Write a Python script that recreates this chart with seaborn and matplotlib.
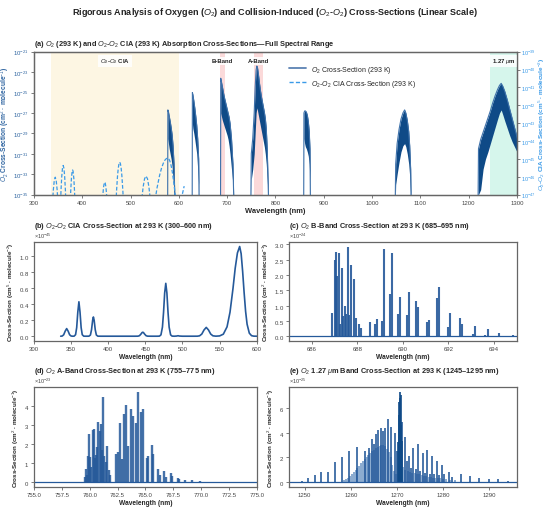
import numpy as np
import pandas as pd
import matplotlib
matplotlib.use("Agg")
import matplotlib.pyplot as plt
import matplotlib.transforms as mtransforms
from matplotlib.lines import Line2D
from matplotlib.ticker import NullLocator, FixedLocator, FormatStrFormatter
import seaborn as sns

# ---------------------------------------------------------------- data
# O2-O2 collision-induced absorption, values in units of 1e-45 cm^5 molecule^-2
CIA_UNIT = 1e-45
cia_wavelength = [336, 338, 340, 342, 344, 346, 348, 350, 352, 354, 356, 357.5, 359, 360.5,
                  362, 363.5, 365, 367, 370, 374, 376, 377.5, 379, 380, 381, 382.5, 384, 386,
                  390, 400, 420, 436, 440, 442, 444, 445.5, 446.5, 447.5, 449, 451, 453, 458,
                  466, 469, 471, 473, 474.5, 476, 477.5, 479, 480.5, 482, 484, 486, 489, 492,
                  494, 496, 500, 515, 520, 523, 526, 529, 532, 535, 538, 541, 545, 550, 555,
                  560, 564, 568, 571, 574, 577, 579, 581, 583, 585, 587, 590, 593, 596, 600,
                  604, 607, 611]
cia_value = [0.0002, 0.0023, 0.018, 0.063, 0.095, 0.063, 0.018, 0.0023, 0.0002, 0.0006, 0.019,
             0.107, 0.30, 0.43, 0.30, 0.107, 0.019, 0.0006, 0.0001, 0.0005, 0.015, 0.081, 0.20,
             0.24, 0.20, 0.081, 0.015, 0.0005, 0.0001, 0.0001, 0.0001, 0.0001, 0.0006, 0.0062,
             0.026, 0.045, 0.050, 0.045, 0.026, 0.0062, 0.0006, 0.0001, 0.0001, 0.0013, 0.017,
             0.114, 0.30, 0.54, 0.66, 0.54, 0.30, 0.114, 0.017, 0.0013, 0.0001, 0.002, 0.006,
             0.002, 0.0001, 0.0001, 0.0004, 0.0048, 0.027, 0.078, 0.110, 0.078, 0.027, 0.0049,
             0.0006, 0.0038, 0.0255, 0.117, 0.30, 0.595, 0.85, 1.04, 1.12, 1.03, 0.81, 0.545,
             0.31, 0.15, 0.038, 0.0067, 0.0008, 0.0001, 0.001, 0.01, 0.03]

# O2 band envelopes on the log panel: wavelength, log10 upper and lower envelope
band580_wl = [576.8, 577.2, 578.5, 580, 582, 584, 586, 588, 590, 592]
band580_hi = [-36, -26.7, -26.9, -27.3, -27.8, -28.4, -29.1, -30.2, -32, -36]
band580_lo = [-36, -29.5, -30.0, -30.5, -31.0, -31.5, -32.2, -33.5, -35, -36]

band630_wl = [627.6, 628.0, 629, 631, 633, 635, 637, 639, 641, 642]
band630_hi = [-36, -25.0, -25.2, -25.8, -26.5, -27.3, -28.2, -29.5, -31.5, -36]
band630_lo = [-36, -28.0, -28.5, -29.0, -29.6, -30.3, -31.0, -32.5, -34, -36]

bandB_wl = [686.3, 686.7, 688, 690, 692, 694, 696, 698, 700, 702, 704, 706, 709, 712, 714]
bandB_hi = [-36, -23.6, -23.9, -24.4, -24.9, -25.4, -25.8, -26.2, -26.6, -27.0, -27.4, -28.0,
            -29.5, -32, -36]
bandB_lo = [-36, -27.0, -27.3, -27.7, -28.0, -28.3, -28.6, -28.9, -29.2, -29.6, -30.2, -31.0,
            -32.5, -34, -36]

bandA_wl = [749, 750, 753, 756, 758, 760, 761.5, 763, 765, 767, 769, 771, 773, 775, 777, 779,
            781, 783, 786]
bandA_hi = [-36, -31.0, -29.5, -27.0, -24.5, -22.8, -22.4, -22.6, -23.3, -24.1, -24.8, -25.4,
            -25.9, -26.4, -26.9, -27.5, -28.5, -30.5, -36]
bandA_lo = [-36, -33.5, -32.5, -31.0, -29.0, -27.0, -26.5, -26.8, -27.3, -27.8, -28.3, -28.8,
            -29.3, -29.8, -30.3, -31, -32, -33.5, -36]

band865_wl = [858.5, 859, 860.5, 862, 864, 866, 868, 870, 871.5, 872.5]
band865_hi = [-36, -27.0, -26.8, -26.8, -26.9, -27.2, -27.8, -28.8, -30.5, -36]
band865_lo = [-36, -29.5, -30.0, -30.3, -30.5, -30.8, -31.2, -32, -33.5, -36]

band1065_wl = [1048, 1049, 1052, 1056, 1060, 1064, 1067.5, 1070, 1073, 1076, 1078, 1080, 1081]
band1065_hi = [-36, -32, -30.0, -28.6, -27.6, -27.0, -26.7, -27.0, -27.7, -28.8, -30.2, -32.5, -36]
band1065_lo = [-36, -34, -33, -31.8, -30.8, -30.2, -30.0, -30.3, -31.0, -32, -33.2, -35, -36]

band1270_wl = [1219.5, 1220.5, 1225, 1230, 1235, 1240, 1245, 1250, 1255, 1260, 1264, 1267.5,
               1271, 1275, 1280, 1285, 1290, 1295, 1300, 1305]
band1270_hi = [-36, -30.5, -29.6, -28.9, -28.2, -27.5, -26.8, -26.0, -25.3, -24.7, -24.3, -24.1,
               -24.4, -24.9, -25.7, -26.6, -27.5, -28.4, -29.3, -30.2]
band1270_lo = [-36, -35, -34.5, -32.5, -31.5, -30.8, -30.0, -29.2, -28.4, -27.6, -27.0, -26.7,
               -27.2, -27.8, -28.5, -29.2, -29.8, -30.3, -30.8, -31.3]

# B band lines, heights in units of 1e-24 cm^2 molecule^-1
B_UNIT = 1e-24
bband_wl = [686.90, 687.00, 687.08, 687.11, 687.18, 687.23, 687.32, 687.35, 687.45, 687.49,
            687.57, 687.64, 687.73, 687.85, 687.96, 688.09, 688.17, 688.57, 688.77, 688.86,
            689.09, 689.17, 689.42, 689.51, 689.80, 689.89, 690.19, 690.28, 690.59, 690.68,
            691.04, 691.13, 691.52, 691.59, 692.00, 692.08, 692.52, 692.61, 693.09, 693.15,
            693.62, 693.73, 694.22, 694.85]
bband_h = [0.77, 2.47, 2.75, 1.95, 2.70, 0.40, 2.22, 0.67, 0.98, 0.72,
           2.92, 0.68, 2.32, 1.88, 0.58, 0.41, 0.27, 0.47, 0.40, 0.57,
           0.50, 2.85, 1.38, 2.72, 0.73, 1.28, 0.70, 1.45, 1.15, 0.95,
           0.45, 0.52, 1.25, 1.61, 0.30, 0.77, 0.58, 0.41, 0.07, 0.34,
           0.04, 0.24, 0.10, 0.05]

# A band lines, heights in units of 1e-23
A_UNIT = 1e-23
aband_wl = [759.60, 759.66, 759.75, 759.84, 759.96, 760.05, 760.14, 760.29, 760.38, 760.47,
            760.59, 760.68, 760.77, 760.89, 760.98, 761.07, 761.16, 761.28, 761.43, 761.55,
            761.70, 761.82, 762.32, 762.53, 762.68, 762.89, 763.07, 763.28, 763.43, 763.73,
            763.88, 764.18, 764.30, 764.63, 764.75, 765.16, 765.25, 765.61, 765.70, 766.15,
            766.27, 766.69, 766.81, 767.29, 767.41, 767.91, 768.00, 768.57, 769.20, 769.89]
aband_h = [0.25, 0.69, 0.37, 1.39, 2.50, 1.30, 0.78, 2.71, 2.80, 1.25,
           1.43, 1.83, 3.15, 2.66, 3.07, 1.66, 4.48, 1.36, 1.07, 1.87,
           0.63, 0.37, 1.46, 1.60, 3.12, 1.22, 3.59, 4.04, 1.87, 3.82,
           3.47, 3.10, 4.74, 3.68, 3.82, 1.25, 1.34, 1.92, 1.48, 0.69,
           0.37, 0.58, 0.26, 0.48, 0.33, 0.18, 0.14, 0.12, 0.09, 0.05]

# 1.27 um band lines, heights in units of 1e-25
D_UNIT = 1e-25
o127_wl = [1249.42, 1250.72, 1252.16, 1253.60, 1255.05, 1256.63, 1258.14, 1259.66, 1261.32,
           1262.97, 1263.98, 1264.49, 1264.92, 1265.42, 1265.86, 1266.50, 1266.86, 1267.44,
           1268.02, 1268.74, 1269.46, 1270.04, 1271.05, 1271.62, 1272.13, 1272.49, 1272.92,
           1273.50, 1274.00, 1274.50, 1275.01, 1275.51, 1276.02, 1276.52, 1277.03, 1277.53,
           1278.04, 1278.54, 1279.05, 1279.77, 1280.13, 1281.13, 1281.86, 1283.87, 1285.75,
           1287.77, 1289.86, 1291.95, 1294.11]
o127_h = [0.08, 0.33, 0.52, 0.79, 0.79, 1.63, 2.01, 2.47, 2.85, 2.52,
          2.77, 3.47, 3.10, 3.91, 4.18, 4.40, 4.15, 4.40, 5.10, 4.45,
          3.94, 2.52, 4.86, 3.64, 1.68, 2.14, 1.11, 2.72, 1.06, 3.07,
          0.92, 2.31, 0.71, 2.61, 0.65, 2.14, 0.62, 1.68, 0.52, 1.36,
          0.62, 0.81, 0.40, 0.60, 0.45, 0.30, 0.25, 0.22, 0.10]
o127_q_wl = [1270.20, 1270.33, 1270.44, 1270.54, 1270.64, 1270.76, 1270.88, 1271.00]
o127_q_h = [3.2, 5.4, 6.5, 7.30, 6.8, 7.03, 4.6, 3.3]
o127_dense_wl = [1258.6, 1259.0, 1259.4, 1259.8, 1260.2, 1260.6, 1261.0, 1261.4, 1261.8, 1262.2,
                 1262.6, 1263.0, 1263.4, 1263.8, 1264.2, 1264.6, 1265.0, 1265.4, 1265.8, 1266.2,
                 1266.6, 1267.0, 1267.4, 1267.8, 1268.2, 1268.6, 1269.0, 1269.4, 1269.8,
                 1271.3, 1271.8, 1272.3, 1272.7, 1273.2, 1273.8, 1274.3, 1274.8, 1275.3, 1275.8,
                 1276.3, 1276.8, 1277.3, 1277.8, 1278.3, 1278.8, 1279.3, 1279.9, 1280.5, 1281.5,
                 1282.5]
o127_dense_h = [0.15, 0.25, 0.35, 0.5, 0.65, 0.8, 1.0, 1.15, 1.3, 1.5,
                1.7, 1.85, 2.0, 2.2, 2.35, 2.5, 2.6, 2.75, 2.85, 2.95,
                3.0, 3.0, 2.9, 2.7, 2.4, 2.0, 1.4, 0.9, 0.6,
                1.2, 1.0, 0.9, 0.8, 0.75, 0.7, 0.65, 0.6, 0.55, 0.5,
                0.45, 0.4, 0.38, 0.35, 0.32, 0.3, 0.28, 0.25, 0.22, 0.18,
                0.14]

# highlighted regions in panel (a)
region_names = [r'$O_2$-$O_2$ CIA', 'B-Band', 'A-Band', r'1.27 $\mu$m']
region_start = [335, 685, 755, 1245]
region_end = [600, 695, 775, 1300]
region_colors = ['#fdf6e3', '#fbdada', '#fbd9d9', '#d6f6ec']

# ---------------------------------------------------------------- style
sns.set_theme(style="ticks")
plt.rcParams['font.family'] = ['Liberation Sans', 'DejaVu Sans']
plt.rcParams.update({
    'mathtext.fontset': 'custom',
    'mathtext.rm': 'Liberation Sans',
    'mathtext.it': 'Liberation Sans:italic',
    'mathtext.bf': 'Liberation Sans:bold',
    'axes.edgecolor': '#666666',
    'axes.linewidth': 0.9,
    'xtick.color': '#666666', 'ytick.color': '#666666',
    'xtick.labelcolor': '#444444', 'ytick.labelcolor': '#444444',
    'xtick.major.size': 2.2, 'ytick.major.size': 2.2,
    'xtick.major.width': 0.6, 'ytick.major.width': 0.6,
    'xtick.labelsize': 4.3, 'ytick.labelsize': 4.3,
    'xtick.major.pad': 1.5, 'ytick.major.pad': 1.5,
})

O2_DARK = '#0f4a87'
O2_EDGE = '#3f72ab'
O2_LINE = '#25599a'
CIA_COLOR = '#3a9ae8'
LEFT_LABEL = '#2e64a0'
LAB = 4.8
TIT = 5.3

fig = plt.figure(figsize=(5.5, 5.1), dpi=100)
fig.text(0.5, 0.976,
         r'Rigorous Analysis of Oxygen ($O_2$) and Collision-Induced ($O_2$-$O_2$) Cross-Sections (Linear Scale)',
         ha='center', va='center', fontsize=6.5, fontweight='bold', color='#222222')

# ---------------------------------------------------------------- panel (a)
axA = fig.add_axes([0.0618, 0.6163, 0.878, 0.2804])
axA.set_yscale('log')
axA.set_xlim(300, 1300)
axA.set_ylim(1e-35, 1e-21)
for s, e, c in zip(region_start, region_end, region_colors):
    axA.axvspan(s, e, color=c, lw=0, zorder=0)

bands = [(band580_wl, band580_hi, band580_lo), (band630_wl, band630_hi, band630_lo),
         (bandB_wl, bandB_hi, bandB_lo), (bandA_wl, bandA_hi, bandA_lo),
         (band865_wl, band865_hi, band865_lo), (band1065_wl, band1065_hi, band1065_lo),
         (band1270_wl, band1270_hi, band1270_lo)]
for wl, hi, lo in bands:
    df = pd.DataFrame({'wl': wl, 'hi': 10.0 ** np.array(hi), 'lo': 10.0 ** np.array(lo)})
    axA.fill_between(df['wl'], df['lo'], df['hi'], color=O2_DARK, lw=0, zorder=2)
    sns.lineplot(data=df, x='wl', y='hi', ax=axA, color=O2_EDGE, lw=0.8, zorder=3,
                 estimator=None, legend=False)

axA.set_xticks(np.arange(300, 1301, 100))
axA.yaxis.set_major_locator(FixedLocator([10.0 ** k for k in range(-21, -36, -2)]))
axA.yaxis.set_minor_locator(NullLocator())
axA.tick_params(axis='y', labelcolor=LEFT_LABEL)
axA.set_xlabel('Wavelength (nm)', fontsize=5.4, fontweight='bold', labelpad=1.5)
axA.set_ylabel(r'$O_2$ Cross-Section (cm$^2$ · molecule$^{-1}$)', fontsize=LAB,
               fontweight='bold', color=LEFT_LABEL, labelpad=0.5)
axA.set_title(r'(a) $O_2$ (293 K) and $O_2$-$O_2$ CIA (293 K) Absorption Cross-Sections—Full Spectral Range',
              loc='left', fontsize=TIT, fontweight='bold', y=1.0, pad=5)

trans = mtransforms.blended_transform_factory(axA.transData, axA.transAxes)
for name, s, e in zip(region_names, region_start, region_end):
    axA.text((s + e) / 2, 0.935, name, transform=trans, ha='center', va='center',
             fontsize=4.3, fontweight='bold', color='#222222', zorder=5,
             bbox=dict(facecolor='white', edgecolor='none', alpha=0.85, pad=1.2))

axA2 = axA.twinx()
axA2.set_yscale('log')
cia_df = pd.DataFrame({'wl': cia_wavelength, 'val': np.array(cia_value) * CIA_UNIT})
sns.lineplot(data=cia_df, x='wl', y='val', ax=axA2, color=CIA_COLOR, lw=0.9,
             linestyle=(0, (3, 1.6)), estimator=None, legend=False)
axA2.set_ylim(1e-47, 1e-39)
axA2.set_xlim(300, 1300)
axA2.yaxis.set_major_locator(FixedLocator([10.0 ** k for k in range(-39, -48, -1)]))
axA2.yaxis.set_minor_locator(NullLocator())
axA2.tick_params(axis='y', labelcolor=CIA_COLOR, labelsize=4.0, pad=1.0)
axA2.set_ylabel(r'$O_2$-$O_2$ CIA Cross-Section (cm$^5$ · molecule$^{-2}$)', fontsize=4.6,
                fontweight='bold', color=CIA_COLOR, labelpad=0.3)
handles = [Line2D([], [], color=O2_LINE, lw=1.3, alpha=0.75),
           Line2D([], [], color=CIA_COLOR, lw=1.0, linestyle=(0, (3, 1.6)))]
axA2.legend(handles, [r'$O_2$ Cross-Section (293 K)', r'$O_2$-$O_2$ CIA Cross-Section (293 K)'],
            loc='upper left', bbox_to_anchor=(0.515, 0.96), frameon=False, fontsize=5.0,
            handlelength=2.4, labelspacing=0.45)


def finish(ax, title, ylabel):
    ax.set_title(title, loc='left', fontsize=TIT, fontweight='bold', y=1.0, pad=11)
    ax.set_xlabel('Wavelength (nm)', fontsize=LAB, fontweight='bold', labelpad=1.5)
    ax.set_ylabel(ylabel, fontsize=LAB - 0.3, fontweight='bold', labelpad=2)
    ax.ticklabel_format(axis='y', style='sci', scilimits=(0, 0), useMathText=True)
    ax.yaxis.get_offset_text().set_fontsize(4)
    ax.yaxis.get_offset_text().set_color('#444444')


Y2 = r'Cross-Section (cm$^2$ · molecule$^{-1}$)'

# ---------------------------------------------------------------- panel (b)
axB = fig.add_axes([0.0618, 0.330, 0.405, 0.1935])
sns.lineplot(data=cia_df, x='wl', y='val', ax=axB, color=O2_LINE, lw=1.2,
             estimator=None, legend=False)
axB.set_xlim(300, 600)
axB.set_ylim(-0.056e-45, 1.176e-45)
axB.set_xticks(np.arange(300, 601, 50))
axB.set_yticks(np.arange(0, 1.01, 0.2) * 1e-45)
finish(axB, r'(b) $O_2$-$O_2$ CIA Cross-Section at 293 K (300–600 nm)',
       r'Cross-Section (cm$^5$ · molecule$^{-2}$)')

# ---------------------------------------------------------------- panel (c)
axC = fig.add_axes([0.5255, 0.330, 0.414, 0.1935])
axC.vlines(np.array(bband_wl), 0, np.array(bband_h) * B_UNIT, color=O2_LINE, lw=1.5, alpha=0.9)
axC.axhline(0, color=O2_LINE, lw=0.9)
axC.set_xlim(685, 695)
axC.set_ylim(-0.146e-24, 3.07e-24)
axC.set_xticks(np.arange(686, 695, 2))
axC.set_yticks(np.arange(0, 3.01, 0.5) * 1e-24)
finish(axC, r'(c) $O_2$ B-Band Cross-Section at 293 K (685–695 nm)', Y2)

# ---------------------------------------------------------------- panel (d)
axD = fig.add_axes([0.0618, 0.0431, 0.405, 0.196])
axD.vlines(np.array(aband_wl), 0, np.array(aband_h) * A_UNIT, color=O2_LINE, lw=1.7, alpha=0.85)
axD.axhline(0, color=O2_LINE, lw=0.9)
axD.set_xlim(755, 775)
axD.set_ylim(-0.27e-23, 5.0e-23)
axD.set_xticks(np.arange(755, 775.1, 2.5))
axD.set_yticks(np.arange(0, 4.1, 1) * 1e-23)
axD.xaxis.set_major_formatter(FormatStrFormatter('%.1f'))
finish(axD, r'(d) $O_2$ A-Band Cross-Section at 293 K (755–775 nm)', Y2)

# ---------------------------------------------------------------- panel (e)
axE = fig.add_axes([0.5255, 0.0431, 0.414, 0.196])
axE.vlines(np.array(o127_dense_wl), 0, np.array(o127_dense_h) * D_UNIT, color='#4f80b8',
           lw=1.1, alpha=0.85)
axE.vlines(np.array(o127_wl), 0, np.array(o127_h) * D_UNIT, color=O2_LINE, lw=1.3, alpha=0.9)
axE.vlines(np.array(o127_q_wl), 0, np.array(o127_q_h) * D_UNIT, color=O2_DARK, lw=1.2)
axE.axhline(0, color=O2_LINE, lw=0.9)
axE.set_xlim(1246.6, 1295.9)
axE.set_ylim(-0.42e-25, 7.7e-25)
axE.set_xticks(np.arange(1250, 1291, 10))
axE.set_yticks(np.arange(0, 6.1, 2) * 1e-25)
finish(axE, r'(e) $O_2$ 1.27 $\mu$m Band Cross-Section at 293 K (1245–1295 nm)', Y2)

fig.savefig('out.png', dpi=100)
